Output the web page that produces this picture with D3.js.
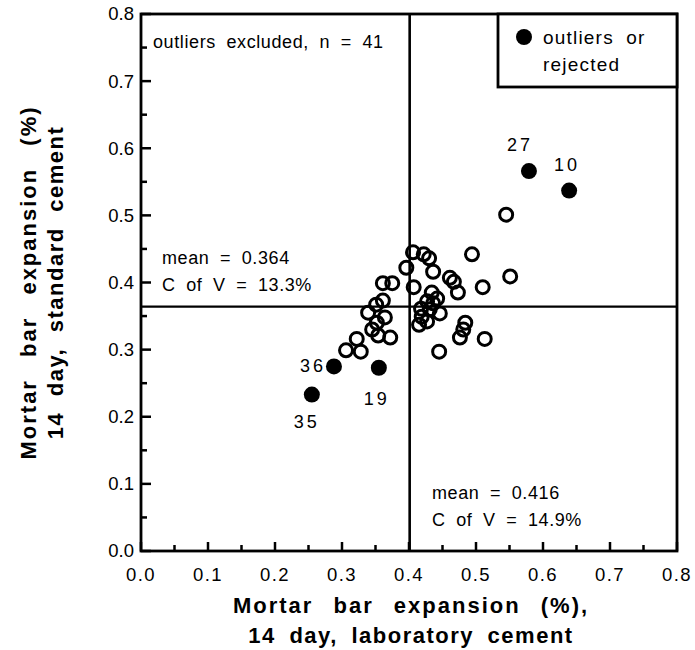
<!DOCTYPE html>
<html>
<head>
<meta charset="utf-8">
<script src="https://cdn.jsdelivr.net/npm/d3@7"></script>
<style>
body { margin: 0; background: #fff; }
svg text { font-family: "Liberation Sans", Arial, Helvetica, sans-serif; fill: #000; }
</style>
</head>
<body>
<div id="chart"></div>
<script>
// open circles: laboratory cement (x) vs standard cement (y), outliers excluded
var labX = [0.406,0.422,0.430,0.396,0.436,0.494,0.551,0.461,0.467,0.510,
            0.407,0.473,0.434,0.427,0.436,0.446,0.419,0.427,0.415,0.484,
            0.481,0.476,0.513,0.445,0.545,0.361,0.375,0.361,0.339,0.364,
            0.352,0.354,0.372,0.322,0.306,0.328,0.351,0.418,0.442,0.345,0.431];
var stdY = [0.445,0.442,0.436,0.422,0.416,0.442,0.409,0.407,0.401,0.393,
            0.393,0.385,0.385,0.372,0.369,0.354,0.349,0.342,0.337,0.340,
            0.330,0.318,0.316,0.297,0.501,0.399,0.399,0.373,0.355,0.348,
            0.340,0.321,0.318,0.316,0.299,0.297,0.367,0.361,0.376,0.330,0.360];

// filled: outliers or rejected
var outId = ["27","10","36","19","35"];
var outX = [0.579,0.639,0.288,0.355,0.255];
var outY = [0.566,0.537,0.275,0.273,0.233];

var meanStd = 0.364, meanLineX = 0.401;
var tickVals = [0,0.1,0.2,0.3,0.4,0.5,0.6,0.7,0.8];

var margin = {top: 14, right: 18, bottom: 99, left: 141},
    width = 677 - margin.left,
    height = 551 - margin.top;

var svg = d3.select("#chart").append("svg")
    .attr("width", 695).attr("height", 650)
    .append("g")
    .attr("transform", "translate(" + margin.left + "," + margin.top + ")");

var x = d3.scaleLinear().domain([0, 0.8]).range([0, width]);
var y = d3.scaleLinear().domain([0, 0.8]).range([height, 0]);

var minor = d3.range(17).map(function(i){ return i*0.05; });

// bottom axis: inward ticks
var xAx = svg.append("g").attr("transform", "translate(0," + height + ")");
xAx.selectAll("line.tk").data(minor).enter().append("line")
    .attr("x1", function(d){ return x(d); }).attr("x2", function(d){ return x(d); })
    .attr("y1", 0).attr("y2", function(d,i){ return i%2==0 ? -9 : -6; })
    .attr("stroke", "#000").attr("stroke-width", 2.5);
xAx.selectAll("text").data(tickVals).enter().append("text")
    .attr("x", function(d){ return x(d); }).attr("y", 30)
    .attr("text-anchor", "middle").style("font-size", "18.5px").style("letter-spacing", "1.5px")
    .text(function(d){ return d3.format(".1f")(d); });

var yAx = svg.append("g");
yAx.selectAll("line.tk").data(minor).enter().append("line")
    .attr("y1", function(d){ return y(d); }).attr("y2", function(d){ return y(d); })
    .attr("x1", 0).attr("x2", function(d,i){ return i%2==0 ? 10 : 6; })
    .attr("stroke", "#000").attr("stroke-width", 2.5);
yAx.selectAll("text").data(tickVals).enter().append("text")
    .attr("x", -7).attr("y", function(d){ return y(d); }).attr("dy", "0.35em")
    .attr("text-anchor", "end").style("font-size", "18.5px")
    .text(function(d){ return d3.format(".1f")(d); });

// frame
svg.append("rect").attr("x", 0).attr("y", 0).attr("width", width).attr("height", height)
    .attr("fill", "none").attr("stroke", "#000").attr("stroke-width", 2.8);

// mean lines
svg.append("line").attr("x1", 0).attr("x2", width)
    .attr("y1", y(meanStd)).attr("y2", y(meanStd))
    .attr("stroke", "#000").attr("stroke-width", 2.2);
svg.append("line").attr("x1", x(meanLineX)).attr("x2", x(meanLineX))
    .attr("y1", 0).attr("y2", height)
    .attr("stroke", "#000").attr("stroke-width", 2.6);

// points
svg.selectAll("circle.open").data(labX).enter().append("circle")
    .attr("class", "open")
    .attr("cx", function(d){ return x(d); })
    .attr("cy", function(d,i){ return y(stdY[i]); })
    .attr("r", 6.5).attr("fill", "none")
    .attr("stroke", "#000").attr("stroke-width", 3);

svg.selectAll("circle.out").data(outX).enter().append("circle")
    .attr("class", "out")
    .attr("cx", function(d){ return x(d); })
    .attr("cy", function(d,i){ return y(outY[i]); })
    .attr("r", 8).attr("fill", "#000");

var lblOff = [[-9,-20,"middle"],[-2,-20,"middle"],[-8,6,"end"],[-2,37,"middle"],[-5,33,"middle"]];
svg.selectAll("text.id").data(outId).enter().append("text")
    .attr("x", function(d,i){ return x(outX[i]) + lblOff[i][0]; })
    .attr("y", function(d,i){ return y(outY[i]) + lblOff[i][1]; })
    .attr("text-anchor", function(d,i){ return lblOff[i][2]; })
    .style("font-size", "18px").style("letter-spacing", "3px")
    .text(function(d){ return d; });

// annotations
function note(px, py, s){
    svg.append("text").attr("x", px).attr("y", py)
        .style("font-size", "18px").style("letter-spacing", "0.6px")
        .style("word-spacing", "5px").text(s);
}
note(12, 34, "outliers excluded, n = 41");
note(21, 250, "mean = 0.364");
note(21, 277, "C of V = 13.3%");
note(291, 485, "mean = 0.416");
note(291, 512, "C of V = 14.9%");

// legend
svg.append("rect").attr("x", 357).attr("y", 0).attr("width", width-357).attr("height", 73)
    .attr("fill", "#fff").attr("stroke", "#000").attr("stroke-width", 2.8);
svg.append("circle").attr("cx", 383).attr("cy", 23).attr("r", 8).attr("fill", "#000");
svg.append("text").attr("x", 402).attr("y", 30).style("font-size", "19px")
    .style("letter-spacing", "1.2px").style("word-spacing", "6px").text("outliers or");
svg.append("text").attr("x", 402).attr("y", 57).style("font-size", "19px")
    .style("letter-spacing", "1.2px").text("rejected");

// axis titles
var xt = svg.append("text").attr("text-anchor", "middle")
    .attr("transform", "translate(" + (x(0.4) + 2) + "," + (height + 62) + ")")
    .style("font-size", "22px").style("font-weight", "bold");
xt.append("tspan").attr("x", 0).attr("dy", 0)
    .style("letter-spacing", "2px").style("word-spacing", "12px")
    .text("Mortar bar expansion (%),");
xt.append("tspan").attr("x", 0).attr("dy", 30)
    .style("letter-spacing", "1.5px").style("word-spacing", "6px")
    .text("14 day, laboratory cement");

var yt = svg.append("text").attr("text-anchor", "middle")
    .attr("transform", "translate(" + (-105) + "," + y(0.4) + ")rotate(-90)")
    .style("font-size", "22px").style("font-weight", "bold");
yt.append("tspan").attr("x", 0).attr("dy", 0)
    .style("letter-spacing", "2px").style("word-spacing", "14px")
    .text("Mortar bar expansion (%)");
yt.append("tspan").attr("x", 0).attr("dy", 27)
    .style("letter-spacing", "1.5px").style("word-spacing", "8px")
    .text("14 day, standard cement");
</script>
</body>
</html>
